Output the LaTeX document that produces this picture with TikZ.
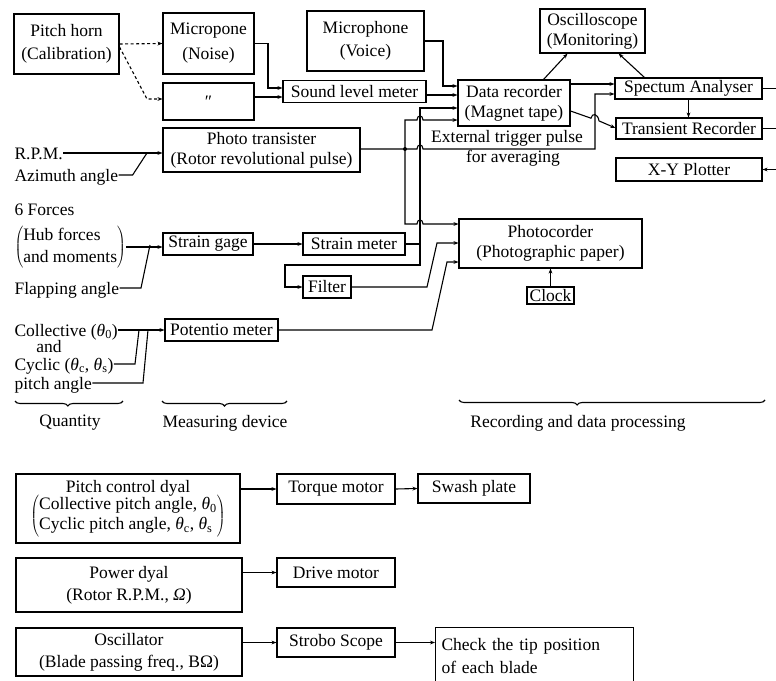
\documentclass[tikz,border=0pt]{standalone}
\usepackage{fontspec}
\setmainfont{Liberation Serif}
\usetikzlibrary{arrows.meta,decorations.pathreplacing,calc}
\begin{document}
\begin{tikzpicture}[x=1pt,y=-1pt,line width=1.1pt,
  >={Stealth[length=5pt,width=3.8pt]},
  every node/.style={font=\fontsize{17.5}{20}\selectfont,inner sep=0pt},
  box/.style={draw,align=center},
  sz/.style 2 args={minimum width=#1pt,minimum height=#2pt},
  lbl/.style={anchor=west,text height=12pt,text depth=0pt},
  dsh/.style={dash pattern=on 3pt off 2.5pt},
  brc/.style={decorate,decoration={brace,mirror,amplitude=5pt,aspect=#1}}
]
\useasboundingbox (0,0) rectangle (776,680);
\fill[white] (0,0) rectangle (776,680);

% ---------- upper boxes ----------
\node[box,sz={105}{60}] (ph) at (66.5,44) {Pitch horn\\[3pt](Calibration)};
\node[box,sz={91}{61}] (mn) at (208.5,43.5) {Micropone\\[5pt](Noise)};
\node[box,sz={91}{37}] (md) at (208.5,101.5) {″};
\node[box,sz={117}{60}] (mv) at (365.5,41) {Microphone\\[3pt](Voice)};
\node[box,sz={143}{22}] (slm) at (354.5,91.5) {Sound level meter};
\node[box,sz={112}{46}] (dr) at (514,103) {Data recorder\\(Magnet tape)};
\node[box,sz={105}{44}] (osc) at (592.5,31) {Oscilloscope\\(Monitoring)};
\node[box,sz={147}{21}] (sa) at (688.5,88.5) {Spectum Analyser};
\node[box,sz={146}{21}] (tr) at (689,128.5) {Transient Recorder};
\node[box,sz={146}{23}] (xy) at (689,169.5) {X-Y Plotter};
\node[box,sz={197}{44}] (pt) at (261.5,150) {Photo transister\\(Rotor revolutional pulse)};
\node[box,sz={90}{22}] (sg) at (208,244) {Strain gage};
\node[box,sz={102}{22}] (sm) at (354,244) {Strain meter};
\node[box,sz={48}{22}] (fi) at (327,287) {Filter};
\node[box,sz={113}{22}] (pm) at (221.5,330) {Potentio meter};
\node[box,sz={183}{49}] (pc) at (550.5,243.5) {Photocorder\\(Photographic paper)};
\node[box,sz={47}{17}] (ck) at (550.5,295.5) {Clock};

\node (etp) at (507,138) {External trigger pulse};
\node (fav) at (513,158) {for averaging};

% ---------- left labels ----------
\node[lbl] (rpm) at (14,153) {R.P.M.};
\node[lbl] (az) at (14,175) {Azimuth angle};
\node[lbl] (f6) at (14,209) {6 Forces};
\node[anchor=west] (hub) at (14,247) {$\left(\begin{tabular}{@{}l@{}}Hub forces\\[2pt]and moments\end{tabular}\right)$};
\node[lbl] (fa) at (14,288) {Flapping angle};
\node[lbl] (co) at (14,330) {Collective (\textit{θ}\textsubscript{0})};
\node (and) at (49,347) {and};
\node[lbl] (cy) at (14,364) {Cyclic (\textit{θ}\textsubscript{c}, \textit{θ}\textsubscript{s})};
\node[lbl] (pa) at (14,383) {pitch angle};

% ---------- braces ----------
\draw[brc=0.49] (15,401) -- (123,401);
\node (qu) at (70,423) {Quantity};
\draw[brc=0.5] (162,401) -- (287,401);
\node (mdv) at (225,423) {Measuring device};
\draw[brc=0.386] (459,400) -- (765,400);
\node (rdp) at (578,423) {Recording and data processing};

% ---------- lower boxes ----------
\node[box,sz={224}{69}] (pcd) at (128,508.5) {Pitch control dyal\\[-2pt]$\left(\begin{tabular}{@{}l@{}}Collective pitch angle, \textit{θ}\textsubscript{0}\\Cyclic pitch angle, \textit{θ}\textsubscript{c}, \textit{θ}\textsubscript{s}\end{tabular}\right)$};
\node[box,sz={118}{30}] (tm) at (336,489) {Torque motor};
\node[box,sz={112}{29}] (sw) at (474,488.5) {Swash plate};
\node[box,sz={226}{54}] (pd) at (129,585) {Power dyal\\[2pt](Rotor R.P.M., \textit{Ω})};
\node[box,sz={118}{29}] (dm) at (336,572.5) {Drive motor};
\node[box,sz={226}{48}] (os2) at (129,652) {Oscillator\\[2pt](Blade passing freq., BΩ)};
\node[box,sz={118}{29}] (ss) at (336,642.5) {Strobo Scope};
\node[draw,anchor=north west,minimum width=198pt,minimum height=56pt,text width=186pt,align=left] (cht) at (435,627) {Check the tip position\\[3pt]of each blade};

% ---------- free ends ----------
\coordinate (rA) at (790,88.5);
\coordinate (rB) at (790,128.5);
\coordinate (rC) at (790,169.5);
\coordinate (jA) at (405,149);
\coordinate (jB) at (420,244);
\coordinate (j1) at (147,153);
\coordinate (j2) at (150,245);
\coordinate (j3) at (139,330);
\coordinate (j4) at (148,330);

% ---------- connectors, upper ----------
\draw[->,dsh] (ph.east) -- (mn.west);
\draw[->,dsh] ($(ph.east)+(0,3)$) -- (147,99) -- (md.west |- 0,99);
\draw[->] (mn.east) -- (268,43.5) -- (268,88) -- (slm.west |- 0,88);
\draw[->] (md.east |- 0,97) -- (slm.west |- 0,97);
\draw[->] (mv.east) -- (443,41) -- (443,86) -- (dr.west |- 0,86);
\draw[->] (slm.east |- 0,95) -- (dr.west |- 0,95);

\draw[->] (pt.east |- jA) -- (jA) -- (417,149) .. controls (417,143.5) and (423,143.5) .. (423,149) -- (595,149) -- (595,94) -- (sa.west |- 0,94);
\fill (jA) circle[radius=2pt];
\draw[->] (jA) -- (405,120) -- (417,120) .. controls (417,114.5) and (423,114.5) .. (423,120) -- (dr.west |- 0,120);
\draw[->] (jA) -- (405,224) -- (417,224) .. controls (417,218.5) and (423,218.5) .. (423,224) -- (pc.west |- 0,224);

\draw (sm.east) -- (jB);
\draw[->] (jB) -- (420,108) -- (dr.west |- 0,108);
\draw[->] (jB) -- (420,265) -- (285,265) -- (285,287) -- (fi.west);
\draw[->] (fi.east) -- (427,287) -- (437,243) -- (pc.west |- 0,243);
\draw[->] (pm.east) -- (432,330) -- (447,262) -- (pc.west |- 0,262);

\draw[->] (dr.east |- 0,84) -- (sa.west |- 0,84);
\draw[->] (dr.east |- 0,111) -- (591,118.2) .. controls (592,112.5) and (598,113.5) .. (599,120.9) -- (tr.west |- 0,128);
\draw[->] ($(dr.north east)+(-27,0)$) -- ($(osc.south)+(-25,0)$);
\draw[->] ($(sa.north west)+(30,0)$) -- ($(osc.south east)+(-27,0)$);
\draw[->] (sa.south) -- (sa.south |- tr.north);
\draw (sa.east) -- (rA);
\draw (tr.east) -- (rB);
\draw[<-] (xy.east) -- (rC);
\draw[->] (ck.north) -- (pc.south);

% ---------- connectors, left ----------
\draw[->] (rpm.east) -- (pt.west |- rpm.east);
\draw (az.east) -- ++(14,0) -- (j1);
\draw[->] (hub.east) -- (sg.west |- hub.east);
\draw (fa.east) -- (141,288) -- (j2);
\draw[->] (sg.east) -- (sm.west);
\draw[->] (co.east) -- (pm.west |- co.east);
\draw (cy.east) -- (135,364) -- (j3);
\draw (pa.east) -- (143,383) -- (j4);

% ---------- connectors, lower ----------
\draw[->] (pcd.east |- tm.west) -- (tm.west);
\draw[->] (tm.east) -- (sw.west);
\draw[->] (pd.east |- dm.west) -- (dm.west);
\draw[->] (os2.east |- ss.west) -- (ss.west);
\draw[->] (ss.east) -- (cht.west |- ss.east);
\end{tikzpicture}
\end{document}
